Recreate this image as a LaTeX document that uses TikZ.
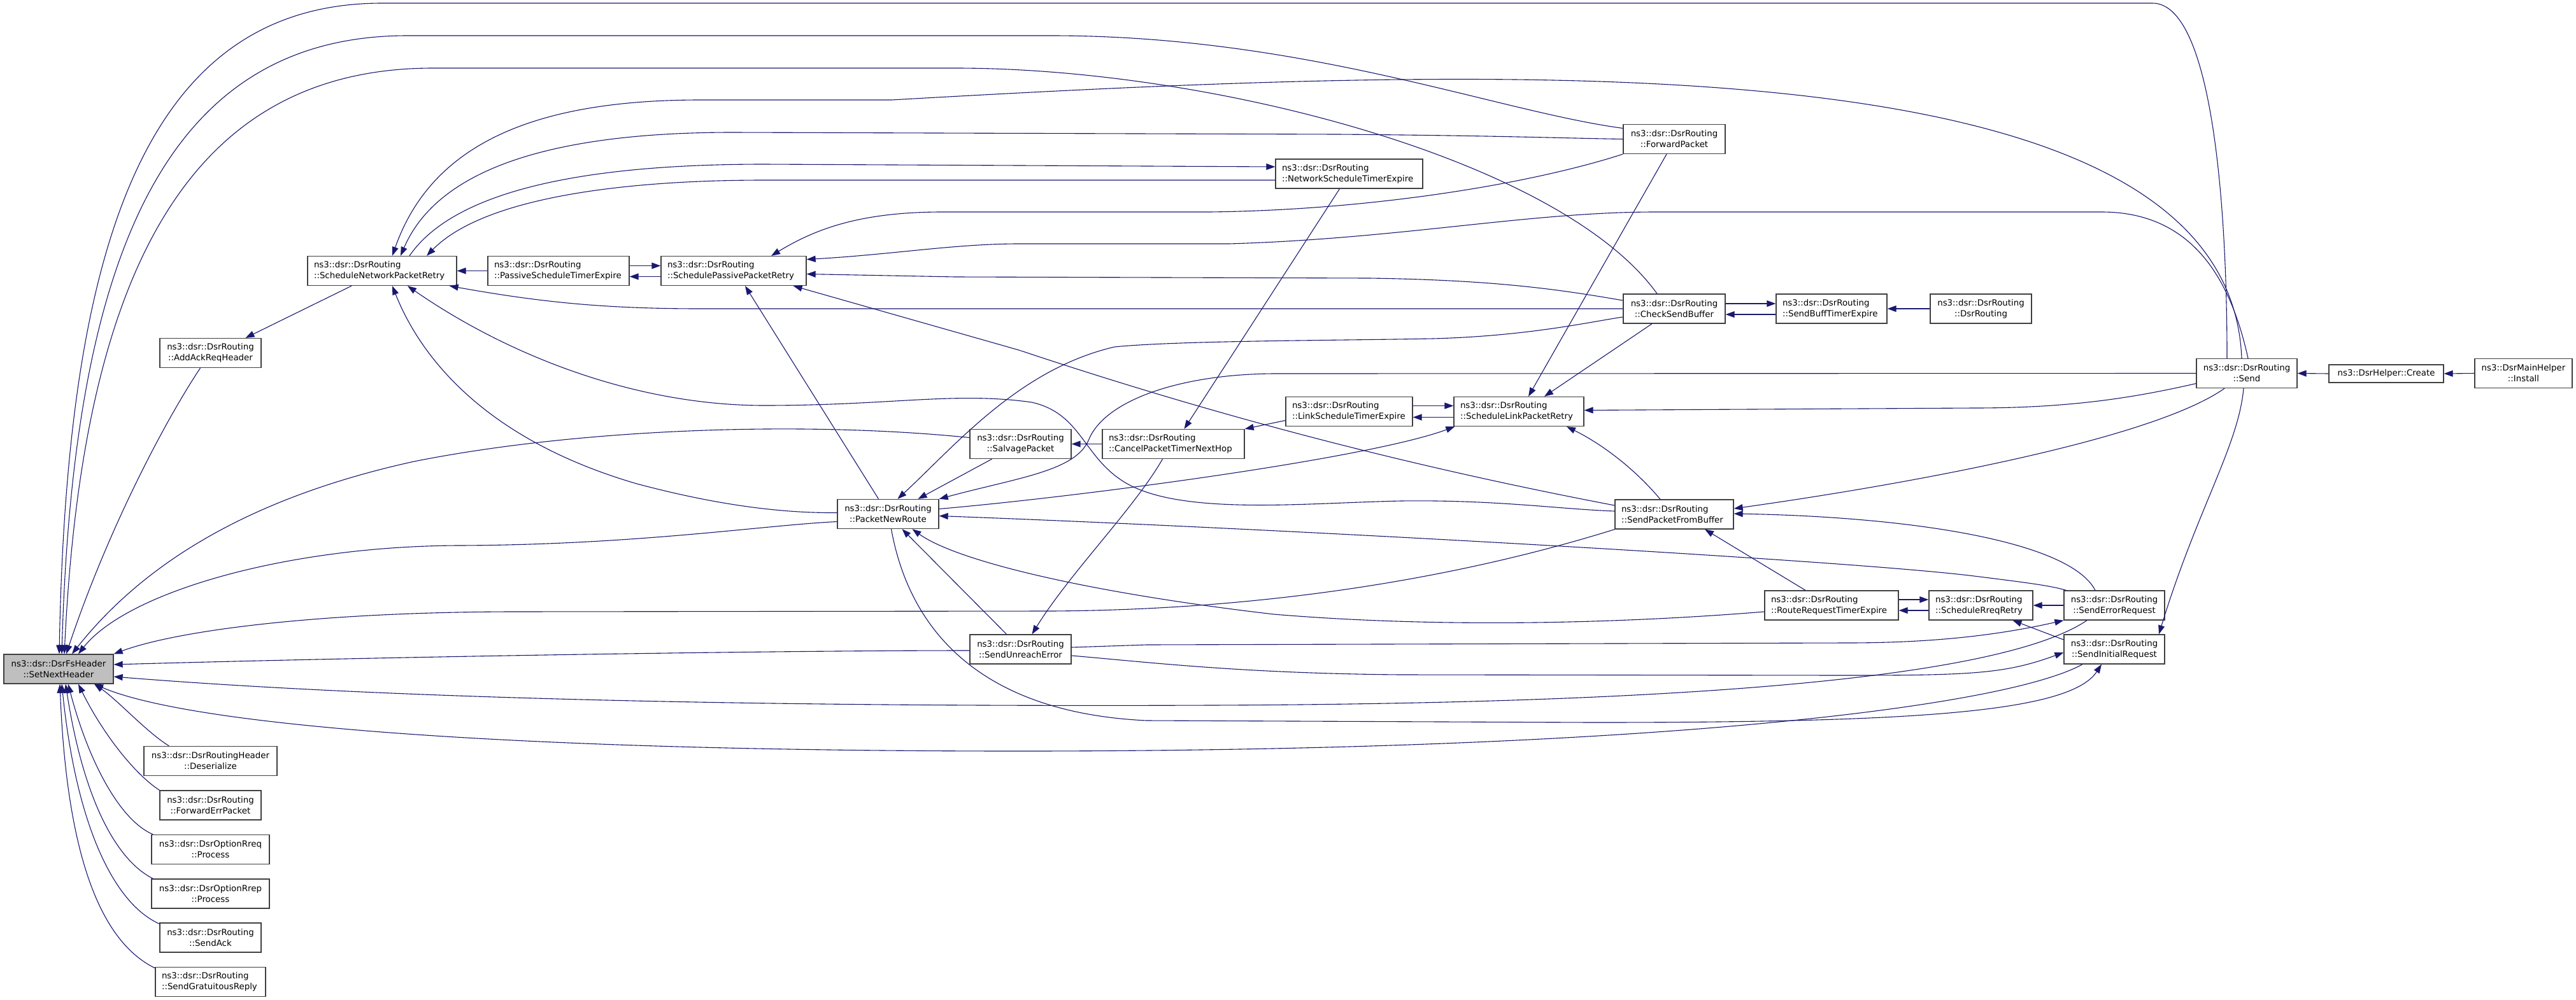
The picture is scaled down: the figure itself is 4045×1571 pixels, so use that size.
\documentclass[tikz,border=0pt]{standalone}
\usepackage{fontspec}
\setmainfont{DejaVu Sans}
\usetikzlibrary{arrows.meta,calc}
\definecolor{edgecol}{HTML}{191970}
\definecolor{boxcol}{HTML}{404040}
\definecolor{rootfill}{HTML}{BFBFBF}
\begin{document}
\begin{tikzpicture}[x=1pt,y=-1pt,
  every node/.style={font=\fontsize{13.35pt}{17pt}\selectfont},
  box/.style={draw=boxcol, line width=1.3pt, fill=white, minimum height=46pt, inner ysep=0pt},
  cb/.style={box, minimum width=#1, inner xsep=0pt, align=center},
  lb/.style={box, text width=#1, inner xsep=10pt, align=left},
  e/.style={draw=edgecol, line width=1.1pt, {Triangle[length=14pt,width=10pt]}-}]
\fill[white] (0,0) rectangle (4045,1571);
\useasboundingbox (0,0) rectangle (4045,1571);
% nodes
\node[cb=172, fill=rootfill] (SNH) at (92,1051) {ns3::dsr::DsrFsHeader\\::SetNextHeader};
\node[cb=159] (AddAck) at (330.5,554.5) {ns3::dsr::DsrRouting\\::AddAckReqHeader};
\node[cb=209] (Des) at (330.5,1195.5) {ns3::dsr::DsrRoutingHeader\\::Deserialize};
\node[cb=159] (FEP) at (330.5,1265) {ns3::dsr::DsrRouting\\::ForwardErrPacket};
\node[cb=185] (Rreq) at (330.5,1334.5) {ns3::dsr::DsrOptionRreq\\::Process};
\node[cb=185] (Rrep) at (330.5,1404) {ns3::dsr::DsrOptionRrep\\::Process};
\node[cb=159] (SAck) at (330.5,1473) {ns3::dsr::DsrRouting\\::SendAck};
\node[lb=153] (SGR) at (330.5,1542.5) {ns3::dsr::DsrRouting\\::SendGratuitousReply};
\node[lb=214] (SNPR) at (600,425.5) {ns3::dsr::DsrRouting\\::ScheduleNetworkPacketRetry};
\node[lb=202] (PSTE) at (877,425.5) {ns3::dsr::DsrRouting\\::PassiveScheduleTimerExpire};
\node[lb=208] (SPPR) at (1152,425.5) {ns3::dsr::DsrRouting\\::SchedulePassivePacketRetry};
\node[cb=159] (PNR) at (1394.5,807.5) {ns3::dsr::DsrRouting\\::PacketNewRoute};
\node[cb=159] (Salvage) at (1602.5,697.5) {ns3::dsr::DsrRouting\\::SalvagePacket};
\node[cb=159] (SUE) at (1602.5,1020) {ns3::dsr::DsrRouting\\::SendUnreachError};
\node[lb=203] (Cancel) at (1842.5,697.5) {ns3::dsr::DsrRouting\\::CancelPacketTimerNextHop};
\node[lb=211] (NSTE) at (2118.5,273) {ns3::dsr::DsrRouting\\::NetworkScheduleTimerExpire};
\node[lb=179] (LSTE) at (2118.5,646.5) {ns3::dsr::DsrRouting\\::LinkScheduleTimerExpire};
\node[lb=184] (SLPR) at (2385,646.5) {ns3::dsr::DsrRouting\\::ScheduleLinkPacketRetry};
\node[cb=160] (FP) at (2629,218.5) {ns3::dsr::DsrRouting\\::ForwardPacket};
\node[cb=160] (CSB) at (2629,485) {ns3::dsr::DsrRouting\\::CheckSendBuffer};
\node[lb=166] (SPFB) at (2629,808) {ns3::dsr::DsrRouting\\::SendPacketFromBuffer};
\node[lb=154] (SBTE) at (2876,485) {ns3::dsr::DsrRouting\\::SendBuffTimerExpire};
\node[lb=190] (RRTE) at (2876,951) {ns3::dsr::DsrRouting\\::RouteRequestTimerExpire};
\node[cb=159] (DR) at (3110.5,485) {ns3::dsr::DsrRouting\\::DsrRouting};
\node[lb=143] (SRR) at (3110.5,951) {ns3::dsr::DsrRouting\\::ScheduleRreqRetry};
\node[cb=158] (SER) at (3320,951) {ns3::dsr::DsrRouting\\::SendErrorRequest};
\node[cb=158] (SIR) at (3320,1020) {ns3::dsr::DsrRouting\\::SendInitialRequest};
\node[cb=158] (Send) at (3528,586.5) {ns3::dsr::DsrRouting\\::Send};
\node[cb=180, minimum height=28pt] (Create) at (3747,587) {ns3::DsrHelper::Create};
\node[cb=153] (Install) at (3962.5,586.5) {ns3::DsrMainHelper\\::Install};
% edges into SetNextHeader
\draw[e] ($(SNH.north)+(1,0)$) .. controls (105,380) and (230,5) .. (600,5) -- (3380,5) .. controls (3470,5) and (3497,300) .. ($(Send.north)+(-31,0)$);
\draw[e] ($(SNH.north)+(5,0)$) .. controls (115,400) and (260,56) .. (640,56) -- (1650,56) .. controls (2050,56) and (2350,175) .. ($(FP.west)+(0,-17)$);
\draw[e] ($(SNH.north)+(9,0)$) .. controls (130,420) and (300,107) .. (680,107) -- (1500,107) .. controls (1900,107) and (2450,250) .. ($(CSB.north)+(-27,0)$);
\draw[e] ($(SNH.north)+(12,0)$) .. controls (170,830) and (260,660) .. ($(AddAck.south)+(-16,0)$);
\draw[e] ($(SNH.north)+(21,0)$) .. controls (230,880) and (400,780) .. (650,725) .. controls (900,675) and (1250,660) .. ($(Salvage.west)+(0,-10)$);
\draw[e] ($(SNH.north)+(31,0)$) .. controls (200,930) and (450,858) .. (720,857) .. controls (1000,856) and (1200,825) .. ($(PNR.west)+(0,12)$);
\draw[e] (SNH.north east) .. controls (280,990) and (500,962) .. (800,961) -- (1650,960) .. controls (2000,958) and (2300,905) .. (SPFB.south west);
\draw[e] ($(SNH.east)+(0,-7)$) .. controls (600,1032) and (1200,1022) .. ($(SUE.west)+(0,2)$);
\draw[e] ($(SNH.east)+(0,12)$) .. controls (700,1105) and (1400,1110) .. (1900,1108) .. controls (2700,1105) and (3150,1060) .. ($(SER.south)+(-43,0)$);
\draw[e] ($(SNH.south)+(56,0)$) .. controls (300,1140) and (800,1180) .. (1600,1180) .. controls (2600,1180) and (3150,1110) .. ($(SIR.south)+(-50,0)$);
\draw[e] ($(SNH.south)+(56,0)$) .. controls (185,1100) and (230,1150) .. ($(Des.north west)+(40,0)$);
\draw[e] ($(SNH.south)+(31,0)$) .. controls (160,1150) and (210,1215) .. (FEP.north west);
\draw[e] ($(SNH.south)+(15,0)$) .. controls (140,1200) and (190,1290) .. ($(Rreq.north west)+(3,0)$);
\draw[e] ($(SNH.south)+(11,0)$) .. controls (130,1250) and (180,1350) .. ($(Rrep.north west)+(3,0)$);
\draw[e] ($(SNH.south)+(5,0)$) .. controls (120,1300) and (180,1420) .. ($(SAck.north west)+(0,2)$);
\draw[e] ($(SNH.south)+(2,0)$) .. controls (105,1350) and (160,1480) .. ($(SGR.north west)+(0,2)$);
% ScheduleNetworkPacketRetry
\draw[e] ($(AddAck.north)+(55,0)$) -- ($(SNPR.south)+(-48,0)$);
\draw[e] ($(SNPR.north)+(16,0)$) .. controls (680,220) and (850,157) .. (1100,157) -- (1400,157) .. controls (2400,100) and (3500,60) .. ($(Send.north)+(-8,0)$);
\draw[e] ($(SNPR.north)+(29,0)$) .. controls (690,260) and (880,208) .. (1150,208) -- (2100,211) .. controls (2350,213) and (2450,217) .. (FP.west);
\draw[e] ($(NSTE.west)+(0,-11)$) -- (1200,258) .. controls (950,258) and (720,290) .. ($(SNPR.north)+(43,0)$);
\draw[e] ($(SNPR.north)+(70,0)$) .. controls (760,310) and (980,283) .. (1200,283) -- ($(NSTE.west)+(0,10)$);
\draw[e] (SNPR.east) -- (PSTE.west);
\draw[e] ($(SPPR.west)+(0,-8)$) -- ($(PSTE.east)+(0,-8)$);
\draw[e] ($(PSTE.east)+(0,9)$) -- ($(SPPR.west)+(0,9)$);
\draw[e] ($(SNPR.south east)+(-12,0)$) .. controls (850,475) and (950,485) .. (1100,485) -- (CSB.west);
\draw[e] ($(SNPR.south)+(40,0)$) .. controls (800,560) and (1000,637) .. (1200,637) .. controls (1400,637) and (1500,615) .. (1620,632) .. controls (1700,650) and (1700,720) .. (1770,760) .. controls (1860,810) and (2050,790) .. (2200,787) .. controls (2350,785) and (2450,800) .. ($(SPFB.west)+(0,-5)$);
\draw[e] ($(SNPR.south)+(16,0)$) .. controls (660,560) and (760,690) .. (1000,760) .. controls (1150,800) and (1250,806) .. ($(PNR.west)+(0,-2)$);
% SchedulePassivePacketRetry
\draw[e] ($(SPPR.north)+(59,0)$) .. controls (1280,360) and (1350,333) .. (1480,333) -- (1900,333) .. controls (2150,330) and (2400,290) .. (FP.south west);
\draw[e] ($(SPPR.east)+(0,-18)$) .. controls (1400,400) and (1500,383) .. (1600,383) -- (1930,383) .. controls (2200,375) and (2400,333) .. (2600,333) -- (3300,333) .. controls (3450,333) and (3505,450) .. ($(Send.north)+(2,0)$);
\draw[e] ($(SPPR.east)+(0,5)$) -- (1500,435) -- (2150,437) .. controls (2350,440) and (2450,455) .. ($(CSB.west)+(0,-13)$);
\draw[e] ($(SPPR.south east)+(-21,0)$) -- (1600,550) .. controls (1900,650) and (2200,730) .. ($(SPFB.west)+(0,-14)$);
\draw[e] ($(SPPR.south)+(18,0)$) -- ($(PNR.north)+(-15,0)$);
% PacketNewRoute
\draw[e] ($(PNR.north)+(15,0)$) .. controls (1500,700) and (1600,580) .. (1750,545) .. controls (1850,535) and (2100,535) .. (2250,532) .. controls (2400,528) and (2500,505) .. ($(CSB.west)+(0,13)$);
\draw[e] ($(PNR.north)+(47,0)$) -- ($(Salvage.south)+(-45,0)$);
\draw[e] (PNR.north east) .. controls (1600,750) and (1690,740) .. (1710,690) .. controls (1735,630) and (1850,588) .. (2000,587) -- (Send.west);
\draw[e] ($(PNR.east)+(0,3)$) .. controls (2000,830) and (2900,880) .. (3100,905) .. controls (3180,915) and (3220,920) .. ($(SER.north west)+(4,0)$);
\draw[e] ($(SLPR.south west)+(2,0)$) .. controls (2150,720) and (1700,780) .. ($(PNR.east)+(0,-8)$);
\draw[e] ($(PNR.south)+(22,0)$) -- ($(SUE.north)+(-22,0)$);
\draw[e] ($(PNR.south)+(38,0)$) .. controls (1500,880) and (1700,930) .. (2000,965) .. controls (2300,990) and (2600,975) .. ($(RRTE.west)+(0,10)$);
\draw[e] ($(SIR.south)+(-20,0)$) .. controls (3250,1120) and (3000,1135) .. (2500,1135) -- (1800,1132) .. controls (1550,1120) and (1430,1000) .. ($(PNR.south)+(5,0)$);
% Salvage, Cancel, timers
\draw[e] (Salvage.east) -- (Cancel.west);
\draw[e] ($(Cancel.north)+(17,0)$) -- ($(NSTE.south)+(-15,0)$);
\draw[e] ($(SUE.north)+(18,0)$) .. controls (1680,900) and (1780,800) .. ($(Cancel.south)+(-17,0)$);
\draw[e] (Cancel.north east) -- ($(LSTE.west)+(0,14)$);
\draw[e] ($(SLPR.west)+(0,-9)$) -- ($(LSTE.east)+(0,-9)$);
\draw[e] ($(LSTE.east)+(0,9)$) -- ($(SLPR.west)+(0,9)$);
\draw[e] ($(SLPR.north)+(15,0)$) -- ($(FP.south)+(-12,0)$);
\draw[e] ($(SLPR.north)+(40,0)$) -- ($(CSB.south)+(-35,0)$);
\draw[e] ($(SLPR.east)+(0,-2)$) -- (3100,641) .. controls (3250,641) and (3350,625) .. ($(Send.west)+(0,16)$);
\draw[e] ($(SLPR.south)+(75,0)$) .. controls (2520,700) and (2570,740) .. ($(SPFB.north)+(-22,0)$);
\draw[e] ($(SBTE.west)+(0,-8)$) -- ($(CSB.east)+(0,-8)$);
\draw[e] ($(CSB.east)+(0,9)$) -- ($(SBTE.west)+(0,9)$);
\draw[e] (SBTE.east) -- (DR.west);
\draw[e] (Send.east) -- (Create.west);
\draw[e] (Create.east) -- (Install.west);
% SendPacketFromBuffer
\draw[e] ($(SPFB.east)+(0,-9)$) .. controls (3000,760) and (3380,690) .. ($(Send.south)+(-35,0)$);
\draw[e] ($(SPFB.east)+(0,-1)$) .. controls (3000,812) and (3250,850) .. ($(SER.north)+(-30,0)$);
\draw[e] ($(SPFB.south)+(48,0)$) -- ($(RRTE.north)+(-41,0)$);
% request retry cluster
\draw[e] (SRR.east) -- (SER.west);
\draw[e] ($(SRR.west)+(0,-9)$) -- ($(RRTE.east)+(0,-9)$);
\draw[e] ($(RRTE.east)+(0,8)$) -- ($(SRR.west)+(0,8)$);
\draw[e] ($(SRR.south)+(50,0)$) -- ($(SIR.west)+(0,-15)$);
\draw[e] ($(SIR.north)+(70,0)$) .. controls (3450,800) and (3515,700) .. ($(Send.south)+(-5,0)$);
\draw[e] (SER.south west) .. controls (3150,995) and (3050,1010) .. (2900,1010) -- (1800,1013) -- ($(SUE.east)+(0,-3)$);
\draw[e] ($(SIR.west)+(0,5)$) .. controls (3150,1058) and (3100,1061) .. (2900,1061) -- (2200,1060) .. controls (1950,1058) and (1800,1040) .. ($(SUE.east)+(0,10)$);
\end{tikzpicture}
\end{document}
